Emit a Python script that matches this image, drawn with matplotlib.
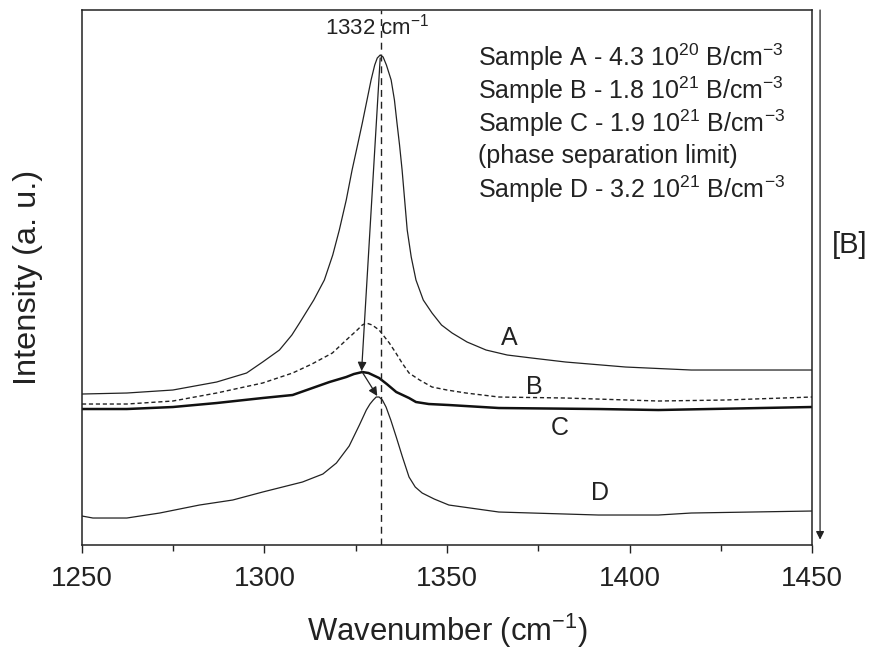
import matplotlib
matplotlib.use("Agg")
import matplotlib.pyplot as plt
from matplotlib.ticker import MultipleLocator

plt.rcParams["font.family"] = ["Liberation Sans", "DejaVu Sans"]
plt.rcParams["mathtext.fontset"] = "custom"
plt.rcParams["mathtext.rm"] = "Liberation Sans"
plt.rcParams["mathtext.it"] = "Liberation Sans"

# Raman spectra (wavenumber in cm-1, intensity in arbitrary units)
wn_a = [1250.0, 1262.3, 1274.9, 1286.9, 1295.1, 1299.5, 1304.1, 1307.5, 1309.6, 1313.5,
        1316.4, 1318.7, 1320.5, 1322.4, 1324.0, 1325.5, 1326.8, 1328.2, 1329.2, 1330.2,
        1330.9, 1331.7, 1332.5, 1333.4, 1334.7, 1335.6, 1336.3, 1337.0, 1337.7, 1338.4,
        1339.1, 1340.2, 1341.5, 1343.5, 1345.9, 1348.5, 1351.4, 1355.5, 1360.7, 1366.5,
        1373.2, 1382.5, 1398.9, 1416.9, 1450.0]
int_a = [151, 152, 155, 163, 172, 183, 195, 210, 222, 245,
         265, 290, 315, 345, 375, 400, 422, 447, 465, 480,
         487, 490, 488, 480, 465, 445, 422, 400, 375, 345,
         315, 288, 265, 245, 232, 220, 212, 203, 195, 190,
         187, 183, 178, 175, 175]

wn_b = [1250.0, 1262.3, 1274.9, 1286.9, 1299.5, 1307.7, 1313.0, 1318.6, 1322.4, 1325.4,
        1326.8, 1327.9, 1329.5, 1331.4, 1334.2, 1336.0, 1337.7, 1339.6, 1342.5, 1345.9,
        1350.0, 1355.2, 1364.2, 1382.5, 1407.9, 1426.2, 1450.0]
int_b = [141, 141, 144, 152, 162, 172, 181, 192, 205, 215,
         220, 222, 220, 215, 202, 192, 182, 172, 165, 158,
         155, 152, 148, 147, 144, 145, 148]

wn_c = [1250.0, 1262.3, 1274.9, 1286.9, 1299.5, 1307.7, 1317.8, 1322.4, 1324.5, 1326.8,
        1328.5, 1331.4, 1333.5, 1336.1, 1339.6, 1341.5, 1345.0, 1350.5, 1364.2, 1391.5,
        1407.9, 1450.0]
int_c = [136, 136, 138, 142, 147, 150, 163, 168, 171, 173,
         172, 167, 161, 153, 147, 143, 141, 140, 137, 136,
         135, 138]

wn_d = [1250.0, 1253.0, 1262.3, 1271.3, 1282.2, 1291.3, 1299.5, 1310.4, 1316.0, 1319.7,
        1323.2, 1326.0, 1327.9, 1328.9, 1329.8, 1330.6, 1331.4, 1332.3, 1333.3, 1334.6,
        1336.1, 1337.8, 1339.6, 1341.3, 1343.2, 1346.5, 1350.5, 1364.2, 1391.5, 1407.9,
        1416.9, 1450.0]
int_d = [29, 27, 27, 32, 40, 45, 53, 63, 71, 82,
         99, 120, 135, 141, 145, 148, 148, 145, 138, 125,
         108, 88, 68, 58, 52, 46, 40, 33, 30, 30,
         32, 34]

diamond_line = 1332
peak_a = (1331.7, 487)
peak_c = (1326.6, 174)
peak_d = (1330.9, 149)

curve_labels = ["A", "B", "C", "D"]
curve_label_pos = [(1367, 207), (1374, 158), (1381, 117), (1392, 52)]

legend_lines = [
    r"Sample A - 4.3 10$^{20}$ B/cm$^{-3}$",
    r"Sample B - 1.8 10$^{21}$ B/cm$^{-3}$",
    r"Sample C - 1.9 10$^{21}$ B/cm$^{-3}$",
    "(phase separation limit)",
    r"Sample D - 3.2 10$^{21}$ B/cm$^{-3}$",
]

fig = plt.figure(figsize=(8.71, 6.58), dpi=100)
ax = fig.add_axes([0.0941, 0.1717, 0.8382, 0.8131])

ax.plot(wn_a, int_a, "-", color="#222222", lw=0.9)
ax.plot(wn_b, int_b, "--", color="#222222", lw=1.0, dashes=(3, 2))
ax.plot(wn_c, int_c, "-", color="#111111", lw=1.8)
ax.plot(wn_d, int_d, "-", color="#222222", lw=0.9)

ax.axvline(diamond_line, color="#222222", lw=1.0, ls="--", dashes=(5, 3.5))

arrow = dict(arrowstyle="-|>", color="#222222", lw=0.9, mutation_scale=13, shrinkA=0, shrinkB=0)
ax.annotate("", xy=peak_c, xytext=peak_a, arrowprops=arrow)
ax.annotate("", xy=peak_d, xytext=peak_c, arrowprops=arrow)

for lab, (x, y) in zip(curve_labels, curve_label_pos):
    ax.text(x, y, lab, fontsize=18, ha="center", va="center", color="#222222")

ax.text(1331, 518, r"1332 cm$^{-1}$", fontsize=16, ha="center", va="center", color="#222222")

y0 = 488
for i, line in enumerate(legend_lines):
    ax.text(1358.5, y0 - i * 33, line, fontsize=18, ha="left", va="center", color="#222222")

# concentration arrow outside the right spine
ax.annotate("", xy=(1.011, 0.01), xytext=(1.011, 1.0), xycoords="axes fraction",
            arrowprops=dict(arrowstyle="-|>", color="#222222", lw=0.9, mutation_scale=12,
                            shrinkA=0, shrinkB=0), annotation_clip=False)
ax.text(1.052, 0.56, "[B]", transform=ax.transAxes, fontsize=21, ha="center", va="center",
        color="#222222")

ax.set_xlim(1250, 1450)
ax.set_ylim(0, 535)
ax.xaxis.set_major_locator(MultipleLocator(50))
ax.xaxis.set_minor_locator(MultipleLocator(25))
ax.set_yticks([])
ax.tick_params(axis="x", which="major", direction="out", length=6, width=1,
               labelsize=20, pad=9, colors="#222222")
ax.tick_params(axis="x", which="minor", direction="out", length=4, width=1, colors="#222222")
for sp in ax.spines.values():
    sp.set_color("#222222")
    sp.set_linewidth(1.1)

ax.set_xlabel(r"Wavenumber (cm$^{-1}$)", fontsize=22.3, labelpad=14, color="#222222")
ax.set_ylabel("Intensity (a. u.)", fontsize=23.4, labelpad=28, color="#222222")

fig.savefig("out.png", dpi=100)
